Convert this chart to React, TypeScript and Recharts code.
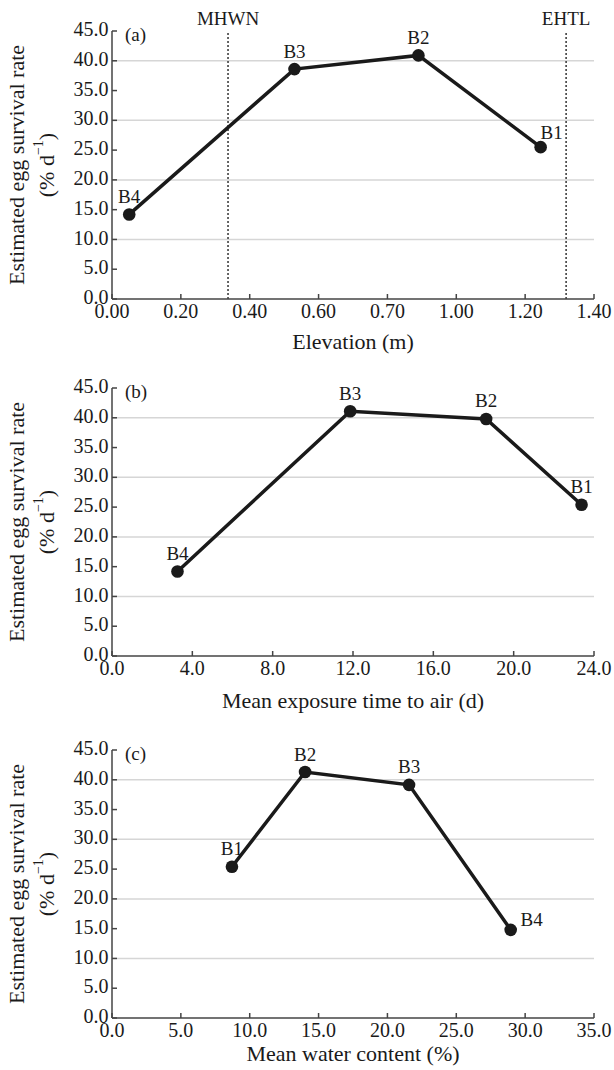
import { CartesianGrid, Line, LineChart, ReferenceLine, XAxis, YAxis } from "recharts";

const FONT = "'Liberation Serif', 'Times New Roman', serif";
const INK = "#1a1a1a";

// shared y axis
const survivalTicks = [0, 5, 10, 15, 20, 25, 30, 35, 40, 45];
const survivalTickLabels = ["0.0", "5.0", "10.0", "15.0", "20.0", "25.0", "30.0", "35.0", "40.0", "45.0"];
const gridValues = [10, 20, 30, 40];

// (a) elevation
const sitesA = ["B4", "B3", "B2", "B1"];
const elevation = [0.05, 0.53, 0.89, 1.245];
const survivalA = [14.2, 38.6, 40.9, 25.5];
const elevationTicks = [0, 0.2, 0.4, 0.6, 0.8, 1.0, 1.2, 1.4];
const elevationTickLabels = ["0.00", "0.20", "0.40", "0.60", "0.70", "1.00", "1.20", "1.40"];
const tideLevelNames = ["MHWN", "EHTL"];
const tideLevels = [0.337, 1.319];

// (b) exposure time
const sitesB = ["B4", "B3", "B2", "B1"];
const exposure = [3.26, 11.86, 18.63, 23.38];
const survivalB = [14.2, 41.1, 39.8, 25.4];
const exposureTicks = [0, 4, 8, 12, 16, 20, 24];
const exposureTickLabels = ["0.0", "4.0", "8.0", "12.0", "16.0", "20.0", "24.0"];

// (c) water content
const sitesC = ["B1", "B2", "B3", "B4"];
const waterContent = [8.71, 14.02, 21.57, 28.95];
const survivalC = [25.4, 41.3, 39.15, 14.8];
const waterTicks = [0, 5, 10, 15, 20, 25, 30, 35];
const waterTickLabels = ["0.0", "5.0", "10.0", "15.0", "20.0", "25.0", "30.0", "35.0"];

type Placement = "top" | "topRight" | "right";

const LABEL_SHIFT: Record<Placement, [number, number]> = {
  top: [0, -18],
  topRight: [11, -15],
  right: [21, -10],
};

function yTitle(letter: string) {
  return (props: any) => {
    const vb = props.viewBox || { x: 0, y: 30, width: 112, height: 268 };
    const cy = vb.y + vb.height / 2;
    return (
      <g fontFamily={FONT} fill={INK}>
        <text
          x={16}
          y={cy}
          fontSize={22}
          textAnchor="middle"
          dominantBaseline="central"
          transform={`rotate(-90, 16, ${cy})`}
        >
          Estimated egg survival rate
        </text>
        <text
          x={46}
          y={cy}
          fontSize={22}
          textAnchor="middle"
          dominantBaseline="central"
          transform={`rotate(-90, 46, ${cy})`}
        >
          <tspan>(% d</tspan>
          <tspan dy={-8} fontSize={14}>−1</tspan>
          <tspan dy={8}>)</tspan>
        </text>
        <text
          x={vb.x + vb.width + 13}
          y={vb.y + 3}
          fontSize={19}
          dominantBaseline="central"
        >
          ({letter})
        </text>
      </g>
    );
  };
}

function xTitle(title: string, gap: number) {
  return (props: any) => {
    const vb = props.viewBox;
    return (
      <text
        x={vb.x + vb.width / 2}
        y={vb.y + gap}
        fontSize={22}
        fontFamily={FONT}
        fill={INK}
        textAnchor="middle"
        dominantBaseline="central"
      >
        {title}
      </text>
    );
  };
}

function Panel({
  top,
  letter,
  sites,
  xs,
  ys,
  xTicks,
  xTickLabels,
  title,
  titleGap,
  placement,
  refNames = [],
  refValues = [],
}: {
  top: number;
  letter: string;
  sites: string[];
  xs: number[];
  ys: number[];
  xTicks: number[];
  xTickLabels: string[];
  title: string;
  titleGap: number;
  placement: Placement[];
  refNames?: string[];
  refValues?: number[];
}) {
  const data = sites.map((site, i) => ({ site, x: xs[i], y: ys[i] }));
  const axisStyle = { stroke: "#444", strokeWidth: 1.5 };
  const tickStyle = { fill: INK, fontSize: 20, fontFamily: FONT };

  const renderDot = (props: any) => {
    const { cx, cy, index } = props;
    const [dx, dy] = LABEL_SHIFT[placement[index] || "top"];
    return (
      <g key={`dot-${index}`}>
        <circle cx={cx} cy={cy} r={6.3} fill={INK} />
        <text
          x={cx + dx}
          y={cy + dy}
          fontSize={19}
          fontFamily={FONT}
          fill={INK}
          textAnchor="middle"
          dominantBaseline="central"
        >
          {sites[index]}
        </text>
      </g>
    );
  };

  return (
    <div style={{ position: "absolute", left: 0, top, width: 614, height: 356 }}>
      <LineChart width={614} height={356} data={data} margin={{ top: 30, right: 20, bottom: 0, left: 0 }}>
        <CartesianGrid
          vertical={false}
          horizontalValues={gridValues}
          stroke="#d6d6d6"
          strokeWidth={1.5}
        />
        <XAxis
          dataKey="x"
          type="number"
          domain={[xTicks[0], xTicks[xTicks.length - 1]]}
          ticks={xTicks}
          interval={0}
          height={58}
          axisLine={axisStyle}
          tickLine={axisStyle}
          tickSize={-5}
          tickMargin={10}
          tick={tickStyle}
          tickFormatter={(v) => xTickLabels[xTicks.indexOf(v)] ?? String(v)}
          label={xTitle(title, titleGap)}
        />
        <YAxis
          type="number"
          domain={[0, 45]}
          ticks={survivalTicks}
          interval={0}
          width={112}
          axisLine={axisStyle}
          tickLine={axisStyle}
          tickSize={-5}
          tickMargin={8.5}
          tick={{ ...tickStyle, dy: -2 }}
          tickFormatter={(v) => survivalTickLabels[survivalTicks.indexOf(v)] ?? String(v)}
          label={yTitle(letter)}
        />
        {refValues.map((v, i) => (
          <ReferenceLine
            key={refNames[i]}
            x={v}
            stroke="#333"
            strokeWidth={1.5}
            strokeDasharray="2 2"
            label={{ value: refNames[i], position: "top", offset: 6, fill: INK, fontSize: 19, fontFamily: FONT }}
          />
        ))}
        <Line
          type="linear"
          dataKey="y"
          stroke={INK}
          strokeWidth={3.5}
          dot={renderDot}
          activeDot={false}
          isAnimationActive={false}
        />
      </LineChart>
    </div>
  );
}

export default function App() {
  return (
    <div
      style={{
        position: "absolute",
        left: 0,
        top: 0,
        width: 614,
        height: 1070,
        background: "#fff",
        fontFamily: FONT,
      }}
    >
      <Panel
        top={1}
        letter="a"
        sites={sitesA}
        xs={elevation}
        ys={survivalA}
        xTicks={elevationTicks}
        xTickLabels={elevationTickLabels}
        title="Elevation (m)"
        titleGap={42}
        placement={["top", "top", "top", "topRight"]}
        refNames={tideLevelNames}
        refValues={tideLevels}
      />
      <Panel
        top={358}
        letter="b"
        sites={sitesB}
        xs={exposure}
        ys={survivalB}
        xTicks={exposureTicks}
        xTickLabels={exposureTickLabels}
        title="Mean exposure time to air (d)"
        titleGap={44}
        placement={["top", "top", "top", "top"]}
      />
      <Panel
        top={720}
        letter="c"
        sites={sitesC}
        xs={waterContent}
        ys={survivalC}
        xTicks={waterTicks}
        xTickLabels={waterTickLabels}
        title="Mean water content (%)"
        titleGap={35}
        placement={["top", "top", "top", "right"]}
      />
    </div>
  );
}
